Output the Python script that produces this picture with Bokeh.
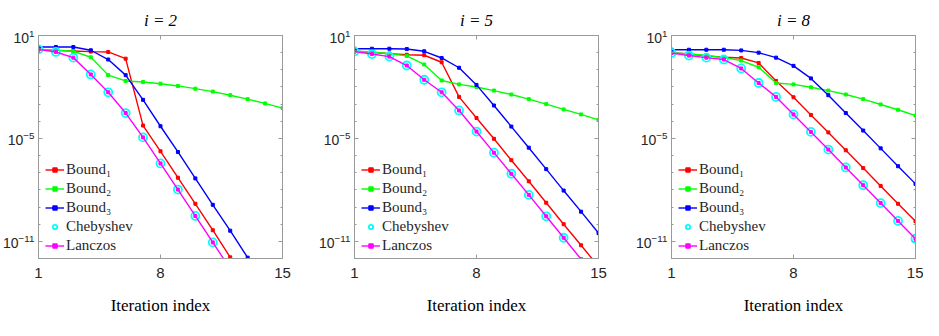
import numpy as np
from bokeh.plotting import figure
from bokeh.models import FixedTicker, LogTickFormatter, LinearAxis, LogAxis, Range1d
from bokeh.layouts import row
from bokeh.embed import file_html
from bokeh.resources import INLINE

# ---------------- data (log10 of the error) ----------------
iterations = list(range(1, 16))
x_ticks = [1, 8, 15]
y_major = [1e-11, 1e-5, 1e1]
y_minor = [10.0 ** k for k in range(-12, 2)]
titles = ["i = 2", "i = 5", "i = 8"]
labels = ["Bound\u2081", "Bound\u2082", "Bound\u2083", "Chebyshev", "Lanczos"]

# i = 2
bound1_i2 = [0.19, 0.13, 0.10, 0.06, 0.04, -0.35, -4.25, -5.75, -7.29, -8.81, -10.35, -11.93]
bound2_i2 = [0.19, 0.15, 0.08, -0.27, -1.31, -1.65, -1.71, -1.81, -1.94, -2.10, -2.27, -2.48, -2.71, -2.96, -3.23]
bound3_i2 = [0.33, 0.33, 0.33, 0.14, -0.40, -1.31, -2.75, -4.29, -5.79, -7.33, -8.87, -10.38, -11.95]
cheb_i2 = [0.19, 0.04, -0.29, -1.27, -2.31, -3.52, -4.94, -6.46, -7.98, -9.52, -11.06]
lanczos_i2 = [0.19, 0.04, -0.29, -1.27, -2.31, -3.52, -4.94, -6.46, -7.98, -9.52, -11.06, -12.6]

# i = 5
bound1_i5 = [0.08, 0.02, -0.06, -0.12, -0.15, -0.56, -2.58, -3.81, -5.02, -6.27, -7.50, -8.75, -10.00, -11.23, -12.47]
bound2_i5 = [0.08, 0.04, -0.06, -0.19, -0.69, -1.62, -1.85, -2.00, -2.21, -2.44, -2.71, -3.00, -3.31, -3.60, -3.92]
bound3_i5 = [0.23, 0.23, 0.23, 0.21, 0.08, -0.31, -0.88, -1.88, -3.08, -4.31, -5.54, -6.79, -8.04, -9.27, -10.52]
cheb_i5 = [0.06, -0.08, -0.23, -0.75, -1.58, -2.31, -3.37, -4.60, -5.83, -7.06, -8.29, -9.54, -10.79]
lanczos_i5 = [0.06, -0.08, -0.23, -0.75, -1.58, -2.31, -3.37, -4.60, -5.83, -7.06, -8.29, -9.54, -10.79, -12.04, -13.3]

# i = 8
bound1_i8 = [0.00, -0.08, -0.19, -0.27, -0.31, -0.60, -1.65, -2.60, -3.63, -4.65, -5.69, -6.73, -7.77, -8.81, -9.83]
bound2_i8 = [-0.02, -0.06, -0.17, -0.29, -0.46, -0.85, -1.77, -1.85, -2.02, -2.21, -2.44, -2.71, -3.02, -3.33, -3.67]
bound3_i8 = [0.17, 0.17, 0.17, 0.17, 0.13, 0.00, -0.29, -0.77, -1.50, -2.48, -3.52, -4.54, -5.58, -6.62, -7.65]
cheb_i8 = [-0.02, -0.17, -0.29, -0.40, -0.92, -1.77, -2.58, -3.60, -4.62, -5.65, -6.69, -7.73, -8.77, -9.81, -10.85]
lanczos_i8 = [-0.02, -0.17, -0.29, -0.40, -0.92, -1.77, -2.58, -3.60, -4.62, -5.65, -6.69, -7.73, -8.77, -9.81, -10.85]

panels = [
    (bound1_i2, bound2_i2, bound3_i2, cheb_i2, lanczos_i2),
    (bound1_i5, bound2_i5, bound3_i5, cheb_i5, lanczos_i5),
    (bound1_i8, bound2_i8, bound3_i8, cheb_i8, lanczos_i8),
]

# ---------------- styling ----------------
line_colors = ["#FF0000", "#00FF00", "#0000FF", "#00FFFF", "#FF00FF"]
BOX = "#9a9a9a"
TXT = "#262626"
SERIF = "Liberation Serif"
SANS = "Liberation Sans"

FRAME_W = 244
FRAME_H = 223
TOP = 35
BOTTOM = 62
borders = [(38, 32), (40, 33), (40, 8)]  # (left, right) border of each figure


def make_panel(title, series, left, right):
    p = figure(width=left + FRAME_W + right, height=TOP + FRAME_H + BOTTOM,
               y_axis_type="log", frame_width=FRAME_W, frame_height=FRAME_H,
               x_range=Range1d(1, 15), y_range=Range1d(1e-12, 1e1),
               output_backend="svg", toolbar_location=None,
               min_border_left=left, min_border_right=right,
               min_border_top=TOP, min_border_bottom=BOTTOM,
               background_fill_color="white", border_fill_color="white")
    p.grid.visible = False
    p.outline_line_color = BOX
    p.outline_line_width = 1

    p.title.text = title
    p.title.text_font = SERIF
    p.title.text_font_style = "italic"
    p.title.text_font_size = "17px"
    p.title.text_color = "black"
    p.title.align = "center"
    p.title.standoff = 12

    for ax in p.xaxis:
        ax.ticker = FixedTicker(ticks=x_ticks)
        ax.axis_label = "Iteration index"
        ax.axis_label_text_font = SERIF
        ax.axis_label_text_font_style = "normal"
        ax.axis_label_text_font_size = "17px"
        ax.axis_label_text_color = "black"
        ax.axis_label_standoff = 15
        ax.major_label_text_font_size = "15px"
        ax.major_label_standoff = 9
    for ax in p.yaxis:
        ax.ticker = FixedTicker(ticks=y_major, minor_ticks=y_minor)
        ax.formatter = LogTickFormatter()
        ax.major_label_text_font_size = "14px"
        ax.major_label_standoff = 4
    for ax in list(p.xaxis) + list(p.yaxis):
        ax.major_label_text_font = SANS
        ax.major_label_text_color = TXT
        ax.axis_line_color = BOX
        ax.major_tick_line_color = BOX
        ax.minor_tick_line_color = BOX
        ax.major_tick_in = 4
        ax.major_tick_out = 0
        ax.minor_tick_in = 2
        ax.minor_tick_out = 0

    top = LinearAxis(ticker=FixedTicker(ticks=x_ticks), major_label_text_font_size="1px",
                     major_label_text_color=None,
                     axis_line_color=BOX, major_tick_line_color=BOX, major_tick_in=4,
                     major_tick_out=0, minor_tick_line_color=None, major_label_standoff=0)
    rax = LogAxis(ticker=FixedTicker(ticks=y_major, minor_ticks=y_minor),
                  major_label_text_font_size="1px", major_label_text_color=None,
                  axis_line_color=BOX,
                  major_tick_line_color=BOX, minor_tick_line_color=BOX,
                  major_tick_in=4, major_tick_out=0, minor_tick_in=2, minor_tick_out=0,
                  major_label_standoff=0)
    p.add_layout(top, "above")
    p.add_layout(rax, "right")

    for vals, color, lab in zip(series, line_colors, labels):
        xs = iterations[:len(vals)]
        ys = [10.0 ** v for v in vals]
        if lab == "Chebyshev":
            p.scatter(xs, ys, marker="circle", size=8, fill_color=None,
                      line_color=color, line_width=1.8, legend_label=lab)
        else:
            p.line(xs, ys, line_color=color, line_width=1.4, legend_label=lab)
            p.scatter(xs, ys, marker="square", size=3, fill_color=color,
                      line_color=color, legend_label=lab)

    lg = p.legend[0]
    lg.location = (4, 0)
    lg.margin = 0
    lg.padding = 3
    lg.spacing = 0
    lg.glyph_width = 19
    lg.glyph_height = 11
    lg.label_height = 19
    lg.label_standoff = 2
    lg.label_text_font = SERIF
    lg.label_text_font_size = "15px"
    lg.label_text_color = TXT
    lg.background_fill_alpha = 0
    lg.border_line_alpha = 0
    return p


figs = [make_panel(t, s, l, r) for t, s, (l, r) in zip(titles, panels, borders)]
page = row(*figs)
open("out.html", "w").write(file_html(page, INLINE, title="Bounds"))
